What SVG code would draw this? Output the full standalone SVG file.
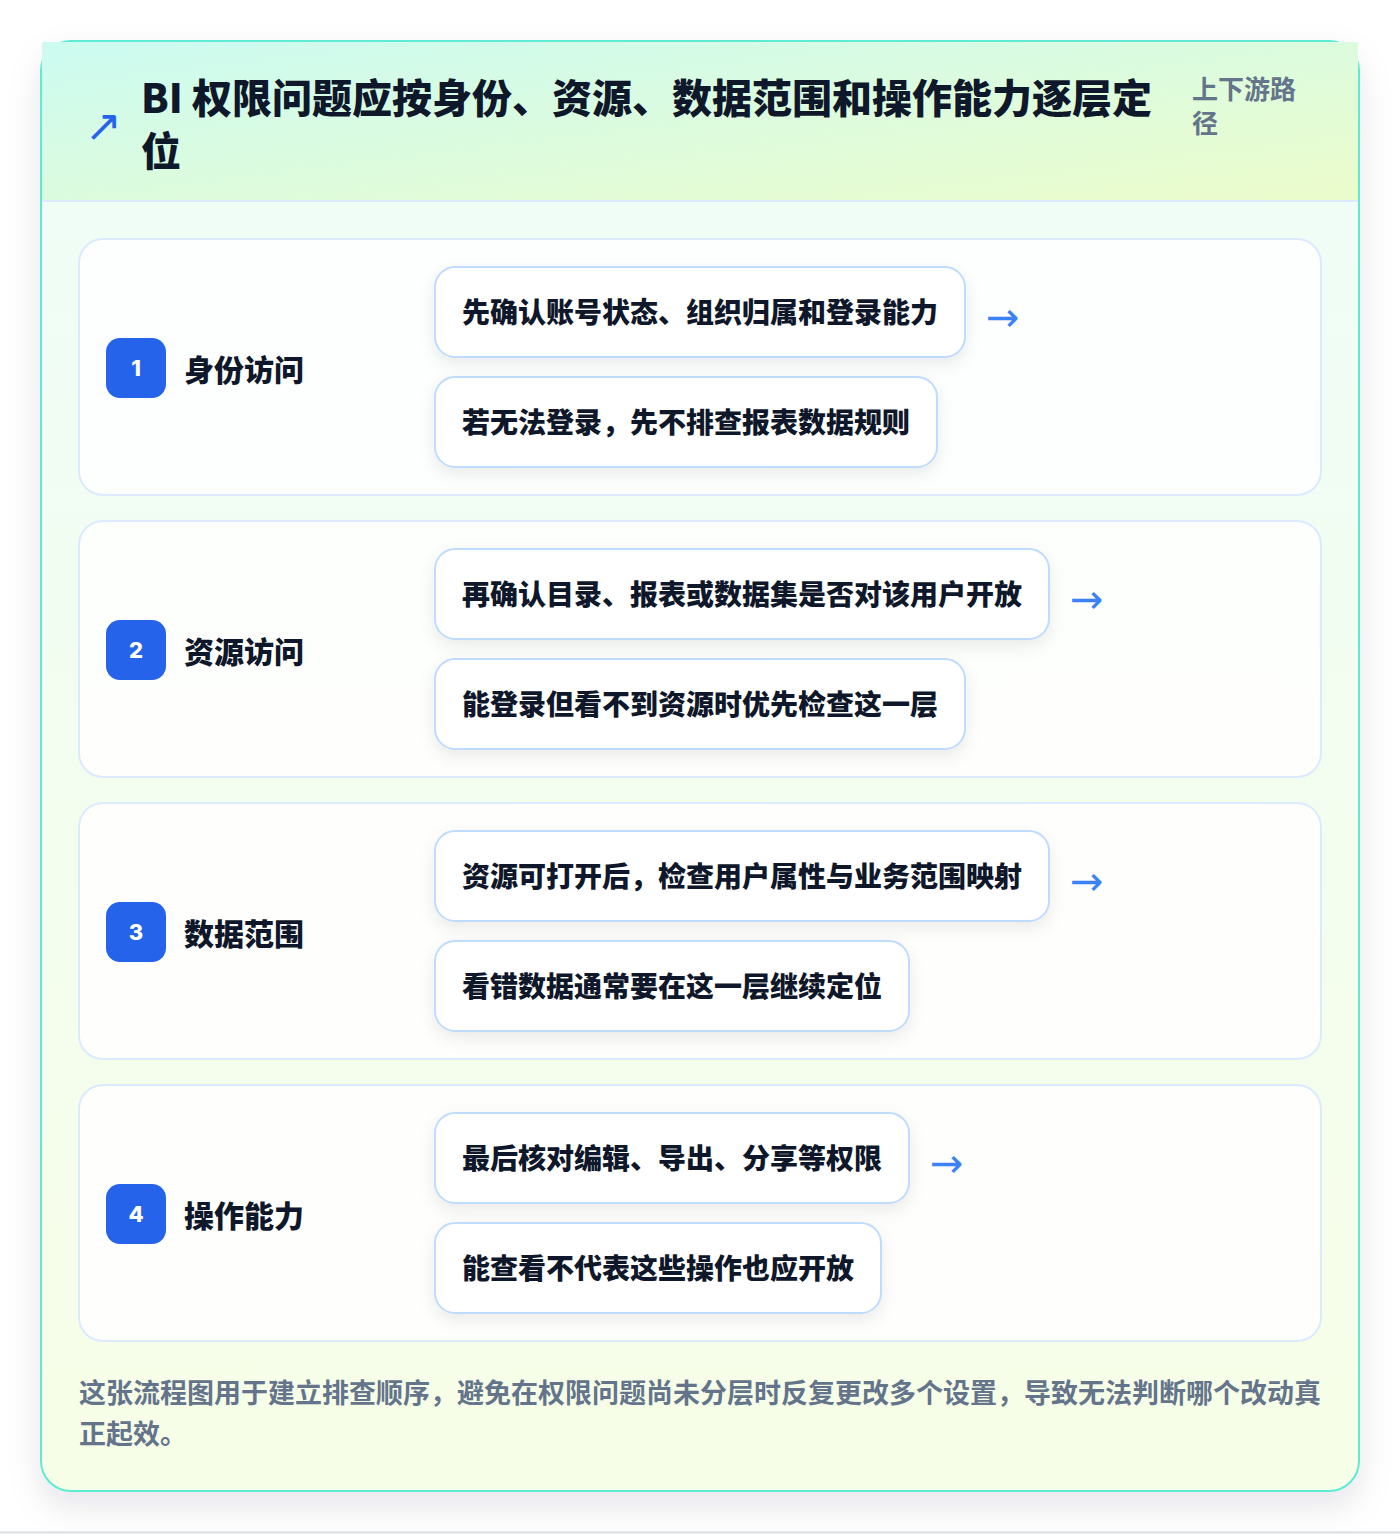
<svg xmlns="http://www.w3.org/2000/svg" width="1400" height="1534" viewBox="0 0 1400 1534">
<defs>
<style>
.cjk{font-family:"Noto Sans CJK SC","Noto Sans",sans-serif;font-weight:900}
.title{font-size:40px;fill:#0f172a}
.sub{font-size:26px;fill:#64748b;font-weight:700}
.lbl{font-size:30px;fill:#0f172a}
.item{font-size:28px;fill:#0f172a}
.num{font-family:"Inter","Liberation Sans",sans-serif;font-weight:800;font-size:22px;fill:#ffffff}
.note{font-size:27px;fill:#64748b;font-weight:700}
.panel{fill:#ffffff;fill-opacity:0.85;stroke:#dbeafe;stroke-width:2}
.box{fill:#ffffff;stroke:#bfdbfe;stroke-width:2}
.badge{fill:#2563eb}
.arr{font-family:"DejaVu Sans","Liberation Sans",sans-serif;font-size:40px;fill:#3b82f6}
</style>
<linearGradient id="hdr" x1="0" y1="0" x2="1" y2="1">
<stop offset="0" stop-color="#ccfbf1"/>
<stop offset="1" stop-color="#ecfccb"/>
</linearGradient>
<linearGradient id="body" x1="0" y1="0" x2="0" y2="1">
<stop offset="0" stop-color="#effdf8"/>
<stop offset="1" stop-color="#f7fee7"/>
</linearGradient>
<filter id="cardsh" x="-10%" y="-10%" width="120%" height="120%">
<feDropShadow dx="0" dy="14" stdDeviation="16" flood-color="#0f172a" flood-opacity="0.10"/>
</filter>
<filter id="boxsh" x="-10%" y="-30%" width="120%" height="170%">
<feDropShadow dx="0" dy="6" stdDeviation="8" flood-color="#0f172a" flood-opacity="0.08"/>
</filter>
</defs>
<rect x="0" y="0" width="1400" height="1534" fill="#ffffff"/>
<rect x="0" y="1531" width="1400" height="3" fill="#e5e7eb"/>
<g id="card">
<rect x="41" y="41" width="1318" height="1450" rx="30" fill="url(#body)" stroke="#5eead4" stroke-width="2" filter="url(#cardsh)"/>
<rect x="42" y="42" width="1316" height="159" fill="url(#hdr)"/>
<rect x="42" y="200" width="1316" height="2" fill="#dbeafe"/>
</g>
<g id="header">
<text class="arr" x="85" y="141" style="fill:#2563eb;font-size:44px">↗</text>
<text class="cjk title" x="141" y="113">BI 权限问题应按身份、资源、数据范围和操作能力逐层定</text>
<text class="cjk title" x="141" y="166">位</text>
<text class="cjk sub" x="1192" y="99">上下游路</text>
<text class="cjk sub" x="1192" y="133">径</text>
</g>
<g id="step1">
<rect class="panel" x="79" y="239" width="1242" height="256" rx="24"/>
<rect class="badge" x="106" y="338" width="60" height="60" rx="14"/>
<text class="num" x="136" y="376" text-anchor="middle">1</text>
<text class="cjk lbl" x="184" y="381">身份访问</text>
<rect class="box" x="435" y="267" width="530" height="90" rx="20" filter="url(#boxsh)"/>
<text class="cjk item" x="462" y="323">先确认账号状态、组织归属和登录能力</text>
<rect class="box" x="435" y="377" width="502" height="90" rx="20" filter="url(#boxsh)"/>
<text class="cjk item" x="462" y="433">若无法登录，先不排查报表数据规则</text>
</g>
<g id="step2">
<rect class="panel" x="79" y="521" width="1242" height="256" rx="24"/>
<rect class="badge" x="106" y="620" width="60" height="60" rx="14"/>
<text class="num" x="136" y="658" text-anchor="middle">2</text>
<text class="cjk lbl" x="184" y="663">资源访问</text>
<rect class="box" x="435" y="549" width="614" height="90" rx="20" filter="url(#boxsh)"/>
<text class="cjk item" x="462" y="605">再确认目录、报表或数据集是否对该用户开放</text>
<rect class="box" x="435" y="659" width="530" height="90" rx="20" filter="url(#boxsh)"/>
<text class="cjk item" x="462" y="715">能登录但看不到资源时优先检查这一层</text>
</g>
<g id="step3">
<rect class="panel" x="79" y="803" width="1242" height="256" rx="24"/>
<rect class="badge" x="106" y="902" width="60" height="60" rx="14"/>
<text class="num" x="136" y="940" text-anchor="middle">3</text>
<text class="cjk lbl" x="184" y="945">数据范围</text>
<rect class="box" x="435" y="831" width="614" height="90" rx="20" filter="url(#boxsh)"/>
<text class="cjk item" x="462" y="887">资源可打开后，检查用户属性与业务范围映射</text>
<rect class="box" x="435" y="941" width="474" height="90" rx="20" filter="url(#boxsh)"/>
<text class="cjk item" x="462" y="997">看错数据通常要在这一层继续定位</text>
</g>
<g id="step4">
<rect class="panel" x="79" y="1085" width="1242" height="256" rx="24"/>
<rect class="badge" x="106" y="1184" width="60" height="60" rx="14"/>
<text class="num" x="136" y="1222" text-anchor="middle">4</text>
<text class="cjk lbl" x="184" y="1227">操作能力</text>
<rect class="box" x="435" y="1113" width="474" height="90" rx="20" filter="url(#boxsh)"/>
<text class="cjk item" x="462" y="1169">最后核对编辑、导出、分享等权限</text>
<rect class="box" x="435" y="1223" width="446" height="90" rx="20" filter="url(#boxsh)"/>
<text class="cjk item" x="462" y="1279">能查看不代表这些操作也应开放</text>
</g>
<g id="connectors">
<text class="arr" x="986" y="331">→</text>
<text class="arr" x="1070" y="613">→</text>
<text class="arr" x="1070" y="895">→</text>
<text class="arr" x="930" y="1177">→</text>
</g>
<g id="footer">
<text class="cjk note" x="79" y="1403">这张流程图用于建立排查顺序，避免在权限问题尚未分层时反复更改多个设置，导致无法判断哪个改动真</text>
<text class="cjk note" x="79" y="1444">正起效。</text>
</g>
</svg>
